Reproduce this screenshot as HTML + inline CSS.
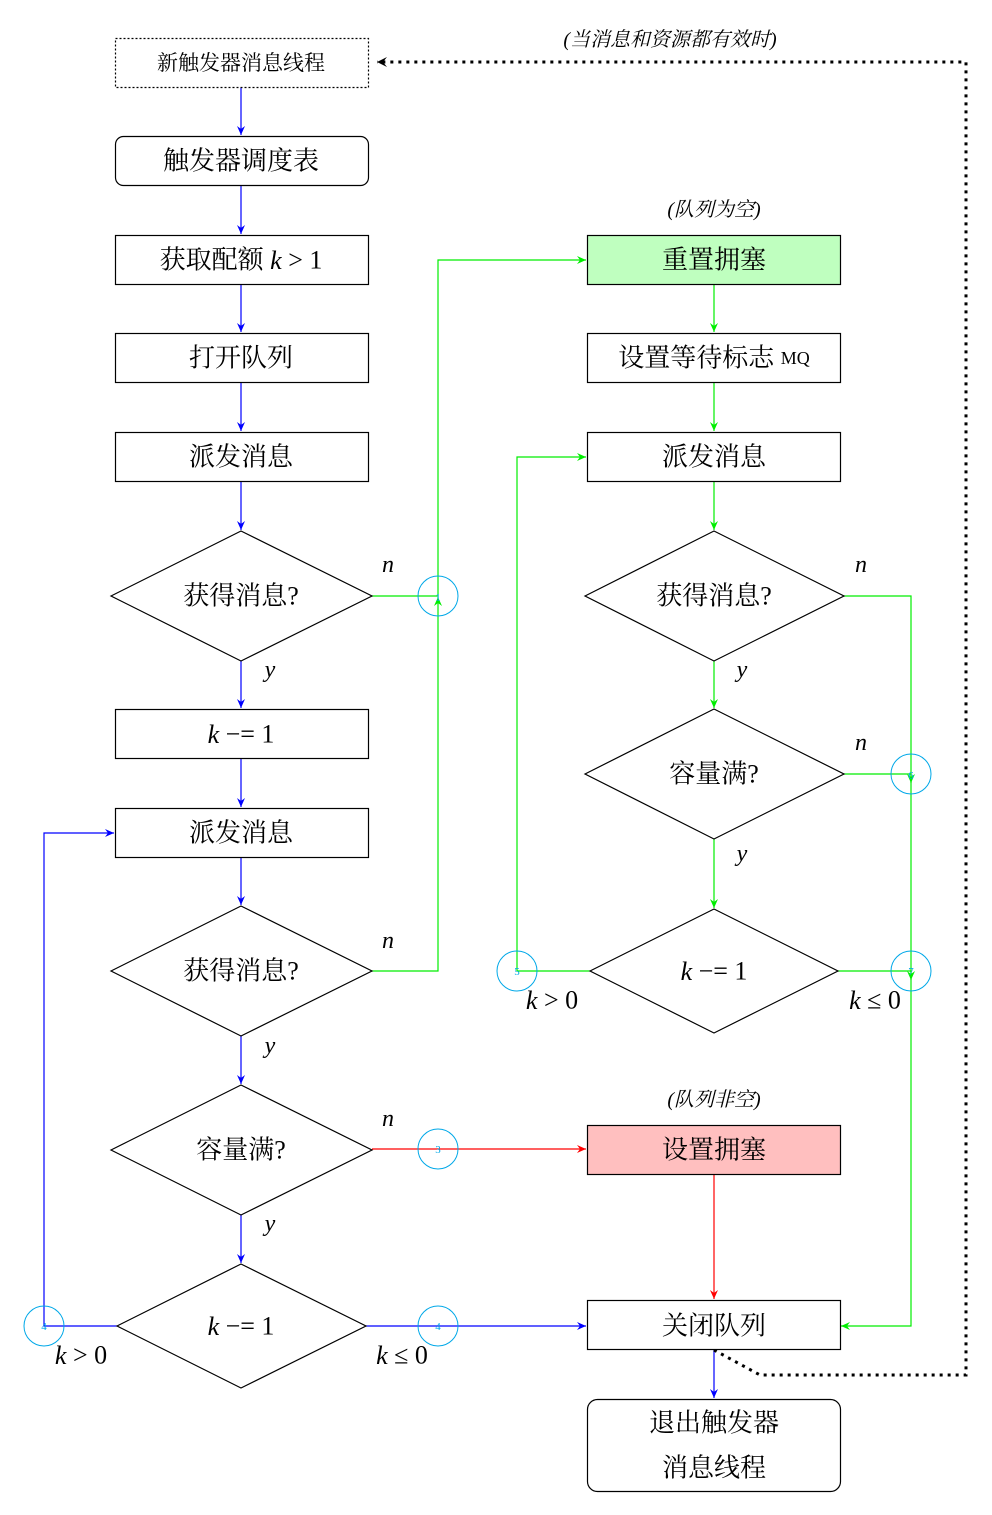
<!DOCTYPE html>
<html><head><meta charset="utf-8"><style>
html,body{margin:0;padding:0;background:#fff;}
svg{display:block;}
text{font-family:"Liberation Serif","Noto Serif CJK SC","Noto Sans CJK SC",serif;fill:#000;}
.t{font-size:26px;text-anchor:middle;dominant-baseline:central;}
.s{font-size:20px;text-anchor:middle;dominant-baseline:central;font-style:italic;}
.m{font-size:24px;font-style:italic;text-anchor:middle;dominant-baseline:central;}
.c{font-size:11px;fill:#00a8e8;text-anchor:middle;dominant-baseline:central;}
</style></head><body>
<svg width="992" height="1515" viewBox="0 0 992 1515" xmlns="http://www.w3.org/2000/svg">
<defs>
<marker id="ab" markerWidth="10" markerHeight="10" refX="9" refY="5" orient="auto" markerUnits="userSpaceOnUse"><path d="M0,1 L9,5 L0,9 L3,5 Z" fill="#00f"/></marker>
<marker id="ag" markerWidth="10" markerHeight="10" refX="9" refY="5" orient="auto" markerUnits="userSpaceOnUse"><path d="M0,1 L9,5 L0,9 L3,5 Z" fill="#0e0"/></marker>
<marker id="ar" markerWidth="10" markerHeight="10" refX="9" refY="5" orient="auto" markerUnits="userSpaceOnUse"><path d="M0,1 L9,5 L0,9 L3,5 Z" fill="#f00"/></marker>
<marker id="ak" markerWidth="12" markerHeight="12" refX="10" refY="6" orient="auto" markerUnits="userSpaceOnUse"><path d="M0,1 L10,6 L0,11 L4,6 Z" fill="#000"/></marker>
</defs>
<g fill="none" stroke-width="1.2">
<!-- blue left column -->
<g stroke="#00f" marker-end="url(#ab)">
<line x1="241" y1="87" x2="241" y2="135"/>
<line x1="241" y1="186" x2="241" y2="234"/>
<line x1="241" y1="285" x2="241" y2="332"/>
<line x1="241" y1="383" x2="241" y2="431"/>
<line x1="241" y1="482" x2="241" y2="530"/>
<line x1="241" y1="661" x2="241" y2="708"/>
<line x1="241" y1="759" x2="241" y2="807"/>
<line x1="241" y1="858" x2="241" y2="905"/>
<line x1="241" y1="1036" x2="241" y2="1084"/>
<line x1="241" y1="1215" x2="241" y2="1263"/>
<polyline points="117,1326 44,1326 44,833 114,833"/>
<line x1="366" y1="1326" x2="586" y2="1326"/>
<line x1="714" y1="1350" x2="714" y2="1398"/>
</g>
<!-- green -->
<g stroke="#0e0" marker-end="url(#ag)">
<polyline points="372,596 438,596 438,260 586,260"/>
<polyline points="372,971 438,971 438,597"/>
<line x1="714" y1="285" x2="714" y2="332"/>
<line x1="714" y1="383" x2="714" y2="431"/>
<line x1="714" y1="482" x2="714" y2="530"/>
<line x1="714" y1="661" x2="714" y2="708"/>
<line x1="714" y1="839" x2="714" y2="908"/>
<polyline points="590,971 517,971 517,457 586,457"/>
<polyline points="844,596 911,596 911,1326 841,1326"/>
<polyline points="844,774 911,774 911,783"/>
<polyline points="838,971 911,971 911,980"/>
</g>
<!-- red -->
<g stroke="#f00" marker-end="url(#ar)">
<line x1="372" y1="1149" x2="586" y2="1149"/>
<line x1="714" y1="1175" x2="714" y2="1299"/>
</g>
<!-- dotted -->
<polyline points="714,1350 760,1375 966,1375 966,62 377,62" stroke="#000" stroke-width="3" stroke-dasharray="3,5" marker-end="url(#ak)"/>
<!-- boxes -->
<g stroke="#000" fill="#fff">
<rect x="115.5" y="38.5" width="253" height="49" stroke-dasharray="2,2"/>
<rect x="115.5" y="136.5" width="253" height="49" rx="8"/>
<rect x="115.5" y="235.5" width="253" height="49"/>
<rect x="115.5" y="333.5" width="253" height="49"/>
<rect x="115.5" y="432.5" width="253" height="49"/>
<polygon points="111,596 241,531 372,596 241,661"/>
<rect x="115.5" y="709.5" width="253" height="49"/>
<rect x="115.5" y="808.5" width="253" height="49"/>
<polygon points="111,971 241,906 372,971 241,1036"/>
<polygon points="111,1150 241,1085 372,1150 241,1215"/>
<polygon points="117,1326 241,1264 366,1326 241,1388"/>
<rect x="587.5" y="235.5" width="253" height="49" fill="#bfffbf"/>
<rect x="587.5" y="333.5" width="253" height="49"/>
<rect x="587.5" y="432.5" width="253" height="49"/>
<polygon points="585,596 714,531 844,596 714,661"/>
<polygon points="585,774 714,709 844,774 714,839"/>
<polygon points="590,971 714,909 838,971 714,1033"/>
<rect x="587.5" y="1125.5" width="253" height="49" fill="#ffbfbf"/>
<rect x="587.5" y="1300.5" width="253" height="49"/>
<rect x="587.5" y="1399.5" width="253" height="92" rx="10"/>
</g>
<!-- circles -->
<g stroke="#00a8e8" stroke-width="1">
<circle cx="438" cy="596" r="20"/><circle cx="438" cy="1149" r="20"/>
<circle cx="44" cy="1326" r="20"/><circle cx="438" cy="1326" r="20"/>
<circle cx="517" cy="971" r="20"/><circle cx="911" cy="774" r="20"/>
<circle cx="911" cy="971" r="20"/>
</g>
</g>
<text class="c" x="438" y="598">1</text><text class="c" x="438" y="1150">3</text>
<text class="c" x="44" y="1327">4</text><text class="c" x="438" y="1327">4</text>
<text class="c" x="517" y="972">5</text><text class="c" x="911" y="776">6</text>
<text class="c" x="911" y="972">7</text>

<text class="t" x="241" y="63" style="font-size:21px">新触发器消息线程</text>
<text class="t" x="241" y="161">触发器调度表</text>
<text class="t" x="241" y="260">获取配额 <tspan font-style="italic">k</tspan> &gt; 1</text>
<text class="t" x="241" y="358">打开队列</text>
<text class="t" x="241" y="457">派发消息</text>
<text class="t" x="241" y="596">获得消息?</text>
<text class="t" x="241" y="734"><tspan font-style="italic">k</tspan> −= 1</text>
<text class="t" x="241" y="833">派发消息</text>
<text class="t" x="241" y="971">获得消息?</text>
<text class="t" x="241" y="1150">容量满?</text>
<text class="t" x="241" y="1326"><tspan font-style="italic">k</tspan> −= 1</text>
<text class="t" x="714" y="260">重置拥塞</text>
<text class="t" x="714" y="358">设置等待标志 <tspan style="font-size:18px">MQ</tspan></text>
<text class="t" x="714" y="457">派发消息</text>
<text class="t" x="714" y="596">获得消息?</text>
<text class="t" x="714" y="774">容量满?</text>
<text class="t" x="714" y="971"><tspan font-style="italic">k</tspan> −= 1</text>
<text class="t" x="714" y="1150">设置拥塞</text>
<text class="t" x="714" y="1326">关闭队列</text>
<text class="t" x="714" y="1423">退出触发器</text>
<text class="t" x="714" y="1468">消息线程</text>

<text class="s" x="670" y="40">(当消息和资源都有效时)</text>
<text class="s" x="714" y="210">(队列为空)</text>
<text class="s" x="714" y="1100">(队列非空)</text>

<text class="m" x="388" y="565">n</text><text class="m" x="270" y="670">y</text>
<text class="m" x="388" y="941">n</text><text class="m" x="270" y="1046">y</text>
<text class="m" x="388" y="1119">n</text><text class="m" x="270" y="1224">y</text>
<text class="m" x="861" y="565">n</text><text class="m" x="742" y="670">y</text>
<text class="m" x="861" y="743">n</text><text class="m" x="742" y="854">y</text>
<text class="t" x="81" y="1355"><tspan font-style="italic">k</tspan> &gt; 0</text>
<text class="t" x="402" y="1355"><tspan font-style="italic">k</tspan> ≤ 0</text>
<text class="t" x="552" y="1000"><tspan font-style="italic">k</tspan> &gt; 0</text>
<text class="t" x="875" y="1000"><tspan font-style="italic">k</tspan> ≤ 0</text>
</svg>
</body></html>
